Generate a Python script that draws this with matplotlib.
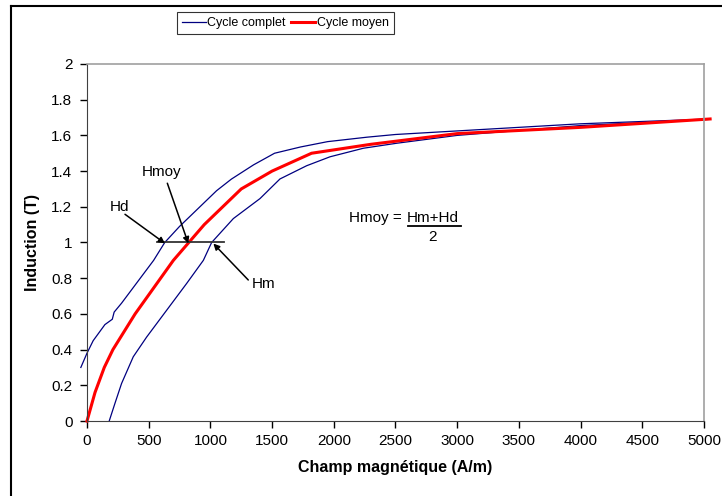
import matplotlib.pyplot as plt
from matplotlib.lines import Line2D
from matplotlib.ticker import FuncFormatter

plt.rcParams['font.family'] = ['Liberation Sans', 'DejaVu Sans']

# Cycle complet - branche descendante (Hd)
h_desc = [-50, 0, 50, 145, 205, 220, 280, 540, 630, 750, 1050, 1170, 1350, 1520,
          1730, 1950, 2270, 2500, 3000, 4000, 5050]
b_desc = [0.30, 0.38, 0.45, 0.54, 0.57, 0.61, 0.66, 0.90, 1.00, 1.09, 1.29, 1.355,
          1.435, 1.50, 1.535, 1.565, 1.59, 1.605, 1.625, 1.665, 1.692]

# Cycle complet - branche montante (Hm)
h_mont = [180, 227, 280, 375, 483, 645, 807, 943, 1010, 1186, 1402, 1564, 1780,
          1969, 2240, 2510, 3000, 4000, 5050]
b_mont = [0.0, 0.10, 0.21, 0.36, 0.47, 0.62, 0.77, 0.90, 1.00, 1.134, 1.246, 1.356,
          1.43, 1.48, 1.528, 1.556, 1.60, 1.655, 1.69]

# Cycle moyen
h_moy = [0, 65, 140, 210, 390, 700, 950, 1250, 1500, 1820, 2300, 3000, 4000, 5050]
b_moy = [0.0, 0.16, 0.30, 0.40, 0.60, 0.90, 1.10, 1.30, 1.40, 1.50, 1.55, 1.61,
         1.645, 1.692]

fig = plt.figure(figsize=(7.22, 4.96), dpi=100)
ax = fig.add_axes([0.1205, 0.1512, 0.8545, 0.7198])

ax.plot(h_desc, b_desc, color='#000080', lw=0.9, clip_on=False, label='Cycle complet')
ax.plot(h_mont, b_mont, color='#000080', lw=0.9, clip_on=False)
ax.plot(h_moy, b_moy, color='#FF0000', lw=2.2, clip_on=False, label='Cycle moyen')

# trait horizontal a B = 1 T
ax.plot([565, 1110], [1, 1], color='#333333', lw=1.3)

arrow = dict(arrowstyle='-|>', color='black', lw=1.1, mutation_scale=9,
             shrinkA=0, shrinkB=0)
ax.annotate('', xy=(632, 0.995), xytext=(308, 1.158), arrowprops=arrow)
ax.annotate('', xy=(821, 0.995), xytext=(651, 1.332), arrowprops=arrow)
ax.annotate('', xy=(1024, 0.994), xytext=(1307, 0.79), arrowprops=arrow)
ax.text(267, 1.20, 'Hd', fontsize=11, ha='center', va='center')
ax.text(605, 1.397, 'Hmoy', fontsize=11, ha='center', va='center')
ax.text(1429, 0.766, 'Hm', fontsize=11, ha='center', va='center')

# formule
ax.text(2120, 1.14, 'Hmoy = ', fontsize=11, ha='left', va='center')
ax.text(2800, 1.14, 'Hm+Hd', fontsize=11, ha='center', va='center')
ax.plot([2600, 3030], [1.09, 1.09], color='black', lw=1.3)
ax.text(2800, 1.03, '2', fontsize=11, ha='center', va='center')

ax.set_xlim(0, 5000)
ax.set_ylim(0, 2)
ax.set_xticks(range(0, 5001, 500))
ax.set_yticks([i * 0.2 for i in range(11)])
ax.yaxis.set_major_formatter(FuncFormatter(lambda v, p: f'{v:.1f}'.rstrip('0').rstrip('.')))
ax.tick_params(direction='out', length=5, width=1, labelsize=11)
ax.tick_params(axis='x', pad=4)
ax.tick_params(axis='y', pad=5.5)
ax.spines['top'].set_color('#a0a0a0')
ax.spines['right'].set_color('#a0a0a0')
ax.spines['top'].set_linewidth(1.2)
ax.spines['right'].set_linewidth(1.2)
ax.spines['left'].set_color('#404040')
ax.spines['bottom'].set_color('#404040')

ax.set_xlabel('Champ magnétique (A/m)', fontsize=11.5, fontweight='bold', labelpad=9)
ax.set_ylabel('Induction (T)', fontsize=11.5, fontweight='bold', labelpad=8)

leg = fig.legend(loc='center', bbox_to_anchor=(0.395, 0.953), ncol=2, fontsize=9,
                 frameon=True, fancybox=False, handlelength=1.9, handletextpad=0.15,
                 columnspacing=0.4, borderpad=0.4)
leg.get_frame().set_edgecolor('black')
leg.get_frame().set_linewidth(0.8)

# cadre du graphique
fig.add_artist(Line2D([11 / 722, 11 / 722], [0, 1 - 6 / 496], color='black', lw=1.5))
fig.add_artist(Line2D([11 / 722, 1], [1 - 6 / 496, 1 - 6 / 496], color='black', lw=1.5))

fig.savefig('out.png', dpi=100)
